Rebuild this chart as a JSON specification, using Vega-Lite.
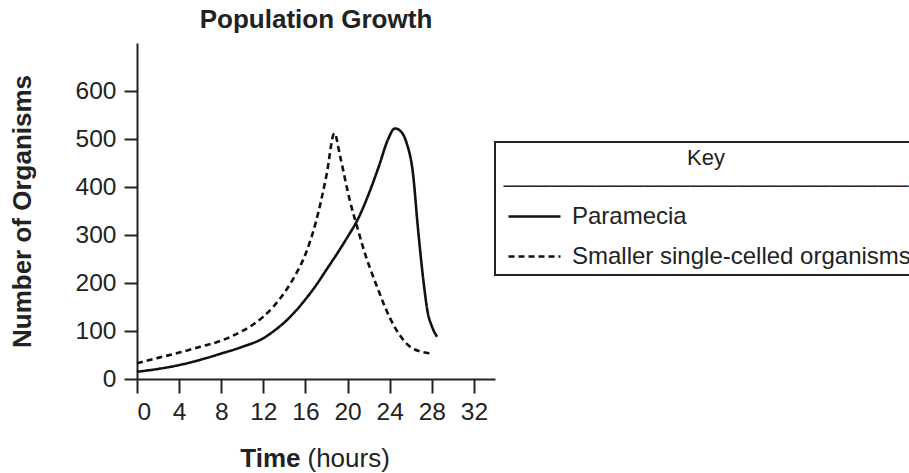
{
  "$schema": "https://vega.github.io/schema/vega-lite/v6.json",
  "autosize": {"type": "none"},
  "width": 358,
  "height": 336,
  "padding": {"left": 137, "top": 43, "right": 414, "bottom": 94},
  "background": "white",
  "title": {
    "text": "Population Growth",
    "font": "Liberation Sans",
    "fontSize": 26,
    "fontWeight": "bold",
    "color": "#222",
    "anchor": "middle",
    "frame": "group",
    "offset": 10
  },
  "config": {
    "view": {"stroke": null},
    "axis": {
      "domainColor": "#222",
      "domainWidth": 2,
      "tickColor": "#222",
      "tickWidth": 2,
      "grid": false,
      "labelFont": "Liberation Sans",
      "labelFontSize": 24.5,
      "labelColor": "#222",
      "titleFont": "Liberation Sans",
      "titleColor": "#222",
      "titleFontSize": 26
    }
  },
  "datasets": {
    "paramecia": [
      {"time": 0, "count": 15, "series": "Paramecia"},
      {"time": 2, "count": 21, "series": "Paramecia"},
      {"time": 4, "count": 29, "series": "Paramecia"},
      {"time": 6, "count": 40, "series": "Paramecia"},
      {"time": 8, "count": 53, "series": "Paramecia"},
      {"time": 10, "count": 67, "series": "Paramecia"},
      {"time": 12, "count": 85, "series": "Paramecia"},
      {"time": 13, "count": 100, "series": "Paramecia"},
      {"time": 14, "count": 118, "series": "Paramecia"},
      {"time": 15, "count": 140, "series": "Paramecia"},
      {"time": 16, "count": 166, "series": "Paramecia"},
      {"time": 17, "count": 195, "series": "Paramecia"},
      {"time": 18, "count": 228, "series": "Paramecia"},
      {"time": 19, "count": 261, "series": "Paramecia"},
      {"time": 20, "count": 296, "series": "Paramecia"},
      {"time": 21, "count": 334, "series": "Paramecia"},
      {"time": 22, "count": 385, "series": "Paramecia"},
      {"time": 23, "count": 445, "series": "Paramecia"},
      {"time": 23.8, "count": 497, "series": "Paramecia"},
      {"time": 24.5, "count": 522, "series": "Paramecia"},
      {"time": 25, "count": 517, "series": "Paramecia"},
      {"time": 25.6, "count": 492, "series": "Paramecia"},
      {"time": 26.2, "count": 430, "series": "Paramecia"},
      {"time": 26.7, "count": 310, "series": "Paramecia"},
      {"time": 27.2, "count": 205, "series": "Paramecia"},
      {"time": 27.6, "count": 140, "series": "Paramecia"},
      {"time": 28, "count": 110, "series": "Paramecia"},
      {"time": 28.5, "count": 88, "series": "Paramecia"}
    ],
    "smaller": [
      {"time": 0, "count": 33, "series": "Smaller single-celled organisms"},
      {"time": 2, "count": 44, "series": "Smaller single-celled organisms"},
      {"time": 4, "count": 55, "series": "Smaller single-celled organisms"},
      {"time": 6, "count": 67, "series": "Smaller single-celled organisms"},
      {"time": 8, "count": 80, "series": "Smaller single-celled organisms"},
      {"time": 10, "count": 100, "series": "Smaller single-celled organisms"},
      {"time": 11, "count": 113, "series": "Smaller single-celled organisms"},
      {"time": 12, "count": 130, "series": "Smaller single-celled organisms"},
      {"time": 13, "count": 152, "series": "Smaller single-celled organisms"},
      {"time": 14, "count": 180, "series": "Smaller single-celled organisms"},
      {"time": 15, "count": 215, "series": "Smaller single-celled organisms"},
      {"time": 16, "count": 260, "series": "Smaller single-celled organisms"},
      {"time": 17, "count": 328, "series": "Smaller single-celled organisms"},
      {"time": 18, "count": 425, "series": "Smaller single-celled organisms"},
      {"time": 18.75, "count": 512, "series": "Smaller single-celled organisms"},
      {"time": 19.3, "count": 463, "series": "Smaller single-celled organisms"},
      {"time": 20.2, "count": 373, "series": "Smaller single-celled organisms"},
      {"time": 21, "count": 310, "series": "Smaller single-celled organisms"},
      {"time": 21.5, "count": 272, "series": "Smaller single-celled organisms"},
      {"time": 22.8, "count": 192, "series": "Smaller single-celled organisms"},
      {"time": 24, "count": 128, "series": "Smaller single-celled organisms"},
      {"time": 25, "count": 90, "series": "Smaller single-celled organisms"},
      {"time": 26, "count": 66, "series": "Smaller single-celled organisms"},
      {"time": 27, "count": 57, "series": "Smaller single-celled organisms"},
      {"time": 28, "count": 53, "series": "Smaller single-celled organisms"}
    ]
  },
  "resolve": {"axis": {"x": "independent"}},
  "layer": [
    {
      "data": {"name": "paramecia"},
      "mark": {"type": "line", "interpolate": "monotone", "strokeWidth": 2.6, "color": "#111"},
      "encoding": {
        "x": {
          "field": "time", "type": "quantitative",
          "scale": {"domain": [0, 34], "nice": false, "zero": false},
          "axis": {
            "orient": "bottom",
            "values": [0, 4, 8, 12, 16, 20, 24, 28, 32],
            "tickSize": 14,
            "labelPadding": 7,
            "title": "Time",
            "titleFontWeight": "bold",
            "titleAlign": "right",
            "titleAnchor": null,
            "titleBaseline": "alphabetic",
            "titleX": 163,
            "titleY": 87
          }
        },
        "y": {
          "field": "count", "type": "quantitative",
          "scale": {"domain": [0, 700], "nice": false},
          "axis": {
            "values": [0, 100, 200, 300, 400, 500, 600],
            "tickSize": 13,
            "labelPadding": 8,
            "title": "Number of Organisms",
            "titleFontWeight": "bold",
            "titlePadding": 40
          }
        },
        "strokeDash": {
          "field": "series", "type": "nominal",
          "scale": {"domain": ["Paramecia", "Smaller single-celled organisms"], "range": [[1, 0], [6, 4]]},
          "legend": {
            "orient": "none",
            "legendX": 358,
            "legendY": 99,
            "title": ["Key", "──────────────────────────"],
            "titleFont": "Liberation Sans",
            "titleFontSize": 22,
            "titleFontWeight": "normal",
            "titleColor": "#222",
            "titleAnchor": "middle",
            "titleAlign": "center",
            "titleLineHeight": 28,
            "titleLimit": 2000,
            "titlePadding": -9,
            "labelFont": "Liberation Sans",
            "labelFontSize": 24,
            "labelColor": "#222",
            "labelLimit": 2000,
            "labelOffset": 10,
            "symbolType": "stroke",
            "symbolSize": 2704,
            "symbolStrokeWidth": 2.6,
            "symbolStrokeColor": "#111",
            "symbolOffset": 6,
            "strokeColor": "#222",
            "padding": 6,
            "rowPadding": -17,
            "encode": {
              "legend": {"update": {"strokeWidth": {"value": 2}}}
            }
          }
        }
      }
    },
    {
      "data": {"name": "smaller"},
      "mark": {"type": "line", "interpolate": "monotone", "strokeWidth": 2.6, "color": "#111"},
      "encoding": {
        "x": {
          "field": "time", "type": "quantitative",
          "axis": {
            "orient": "bottom",
            "labels": false,
            "ticks": false,
            "domain": false,
            "title": "(hours)",
            "titleFontWeight": "normal",
            "titleAlign": "left",
            "titleAnchor": null,
            "titleBaseline": "alphabetic",
            "titleX": 170,
            "titleY": 87
          }
        },
        "y": {"field": "count", "type": "quantitative"},
        "strokeDash": {"field": "series", "type": "nominal"}
      }
    }
  ]
}
